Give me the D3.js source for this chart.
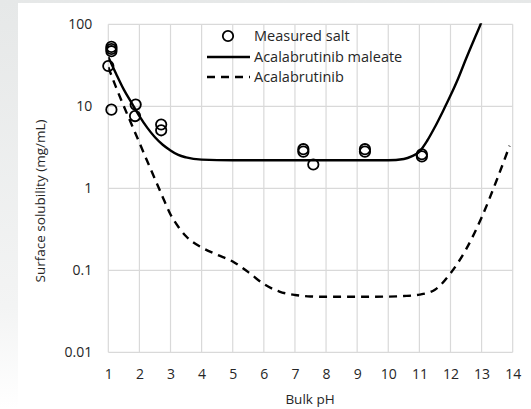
<!DOCTYPE html>
<html>
<head>
<meta charset="utf-8">
<script src="https://cdn.jsdelivr.net/npm/d3@7"></script>
<style>
  html, body { margin: 0; padding: 0; background: #fff; }
  svg { display: block; }
  text { font-family: "Open Sans", Lato, sans-serif; fill: #262626; }
</style>
</head>
<body>
<svg id="chart" width="531" height="409"></svg>
<script>
// Measured surface solubility of the salt (pH, mg/mL)
const measuredPH  = [1.1, 1.1, 1.1, 1.0, 1.1, 1.88, 1.86, 2.7, 2.7, 7.27, 7.27, 7.59, 9.25, 9.25, 11.08, 11.08];
const measuredSol = [53, 50, 47, 31, 9.1, 10.5, 7.6, 6.0, 5.1, 3.0, 2.8, 1.95, 3.0, 2.8, 2.6, 2.45];

// Predicted surface solubility, acalabrutinib maleate
const maleatePH  = [1.0, 1.25, 1.5, 1.75, 2.0, 2.25, 2.5, 2.75, 3.0, 3.25, 3.5, 4.0, 5.0, 6.0, 7.0, 8.0, 9.0, 10.0, 10.5, 10.75, 11.0, 11.25, 11.5, 11.75, 12.0, 12.25, 12.5, 12.75, 13.0, 13.1];
const maleateSol = [40, 25, 16, 11, 7.6, 5.5, 4.2, 3.4, 2.9, 2.55, 2.38, 2.24, 2.2, 2.2, 2.2, 2.2, 2.2, 2.2, 2.28, 2.45, 2.8, 3.8, 5.6, 8.6, 13.5, 22, 38, 64, 108, 140];

// Predicted surface solubility, acalabrutinib free base
const basePH  = [1.0, 1.25, 1.5, 1.75, 2.0, 2.25, 2.5, 2.75, 3.0, 3.25, 3.5, 4.0, 4.5, 5.0, 5.5, 6.0, 6.5, 7.0, 7.5, 8.0, 9.0, 10.0, 10.5, 11.0, 11.5, 12.0, 12.5, 13.0, 13.5, 13.9];
const baseSol = [30, 17, 10, 6.0, 3.6, 2.15, 1.3, 0.78, 0.48, 0.34, 0.26, 0.19, 0.155, 0.128, 0.095, 0.068, 0.055, 0.05, 0.048, 0.0475, 0.0475, 0.0478, 0.0485, 0.0505, 0.058, 0.092, 0.18, 0.44, 1.3, 3.3];

const xTicks = [1, 2, 3, 4, 5, 6, 7, 8, 9, 10, 11, 12, 13, 14];
const yTicks = [0.01, 0.1, 1, 10, 100];
const legendLabels = ["Measured salt", "Acalabrutinib maleate", "Acalabrutinib"];

const svg = d3.select("#chart");
const W = 531, H = 409;
const FONT = "'Open Sans', Lato, sans-serif";

// page backdrop and white card
const defs = svg.append("defs");
const bg = defs.append("linearGradient").attr("id", "bg").attr("x1", 0).attr("y1", 0).attr("x2", 0).attr("y2", 1);
bg.append("stop").attr("offset", "0").attr("stop-color", "#e6e8e8");
bg.append("stop").attr("offset", "0.75").attr("stop-color", "#f3f4f4");
bg.append("stop").attr("offset", "1").attr("stop-color", "#ffffff");
svg.append("rect").attr("width", W).attr("height", H).attr("fill", "url(#bg)");
svg.append("rect").attr("x", 18).attr("y", 3).attr("width", W - 18).attr("height", H - 3).attr("fill", "#fff");

const pLeft = 108.3, pRight = 512.7, pTop = 24.3, pBottom = 352.3;
const x = d3.scaleLinear().domain([1, 14]).range([pLeft, pRight]);
const y = d3.scaleLog().domain([0.01, 100]).range([pBottom, pTop]);

defs.append("clipPath").attr("id", "plot")
  .append("rect").attr("x", pLeft).attr("y", pTop - 1).attr("width", pRight - pLeft).attr("height", pBottom - pTop + 1);

// gridlines
const grid = svg.append("g").attr("stroke", "#d9d9d9").attr("stroke-width", 1.2);
grid.selectAll("line.v").data(xTicks).join("line").attr("class", "v")
  .attr("x1", d => x(d)).attr("x2", d => x(d)).attr("y1", pTop).attr("y2", pBottom);
grid.selectAll("line.h").data(yTicks).join("line").attr("class", "h")
  .attr("x1", pLeft).attr("x2", pRight).attr("y1", d => y(d)).attr("y2", d => y(d));

// axes (labels only; the grid frames the plot)
const xAxis = svg.append("g").attr("transform", `translate(0,${pBottom})`)
  .call(d3.axisBottom(x).tickValues(xTicks).tickSize(0).tickPadding(17).tickFormat(d3.format("d")));
xAxis.select(".domain").remove();
xAxis.selectAll("text").attr("font-size", 14).attr("fill", "#262626").style("font-family", FONT);

const yAxis = svg.append("g").attr("transform", `translate(${pLeft},0)`)
  .call(d3.axisLeft(y).tickValues(yTicks).tickSize(0).tickPadding(16).tickFormat(d => String(d)));
yAxis.select(".domain").remove();
yAxis.selectAll("text").attr("font-size", 14).attr("fill", "#262626").style("font-family", FONT);

svg.append("text").attr("x", 310).attr("y", 404)
  .attr("text-anchor", "middle").attr("font-size", 13.5).text("Bulk pH");
svg.append("text").attr("transform", "translate(45,201) rotate(-90)")
  .attr("text-anchor", "middle").attr("font-size", 13.5).text("Surface solubility (mg/mL)");

// curves
const line = d3.line().curve(d3.curveMonotoneX).x(d => x(d[0])).y(d => y(d[1]));
const plot = svg.append("g").attr("clip-path", "url(#plot)");
plot.append("path").datum(d3.zip(basePH, baseSol))
  .attr("d", line).attr("fill", "none").attr("stroke", "#000").attr("stroke-width", 2.4)
  .attr("stroke-dasharray", "8,6");
plot.append("path").datum(d3.zip(maleatePH, maleateSol))
  .attr("d", line).attr("fill", "none").attr("stroke", "#000").attr("stroke-width", 2.4);

// measured points
svg.append("g").selectAll("circle").data(d3.zip(measuredPH, measuredSol)).join("circle")
  .attr("cx", d => x(d[0])).attr("cy", d => y(d[1])).attr("r", 5.2)
  .attr("fill", "none").attr("stroke", "#000").attr("stroke-width", 1.8);

// legend
const lg = svg.append("g");
const ly = [36, 57, 77];
lg.append("circle").attr("cx", 228).attr("cy", ly[0]).attr("r", 5.2)
  .attr("fill", "none").attr("stroke", "#000").attr("stroke-width", 1.8);
lg.append("line").attr("x1", 207).attr("x2", 250).attr("y1", ly[1]).attr("y2", ly[1])
  .attr("stroke", "#000").attr("stroke-width", 2.4);
lg.append("line").attr("x1", 207).attr("x2", 250).attr("y1", ly[2]).attr("y2", ly[2])
  .attr("stroke", "#000").attr("stroke-width", 2.4).attr("stroke-dasharray", "8,6");
lg.selectAll("text").data(legendLabels).join("text")
  .attr("x", 254).attr("y", (d, i) => ly[i] + 5).attr("font-size", 14.5).text(d => d);
</script>
</body>
</html>
